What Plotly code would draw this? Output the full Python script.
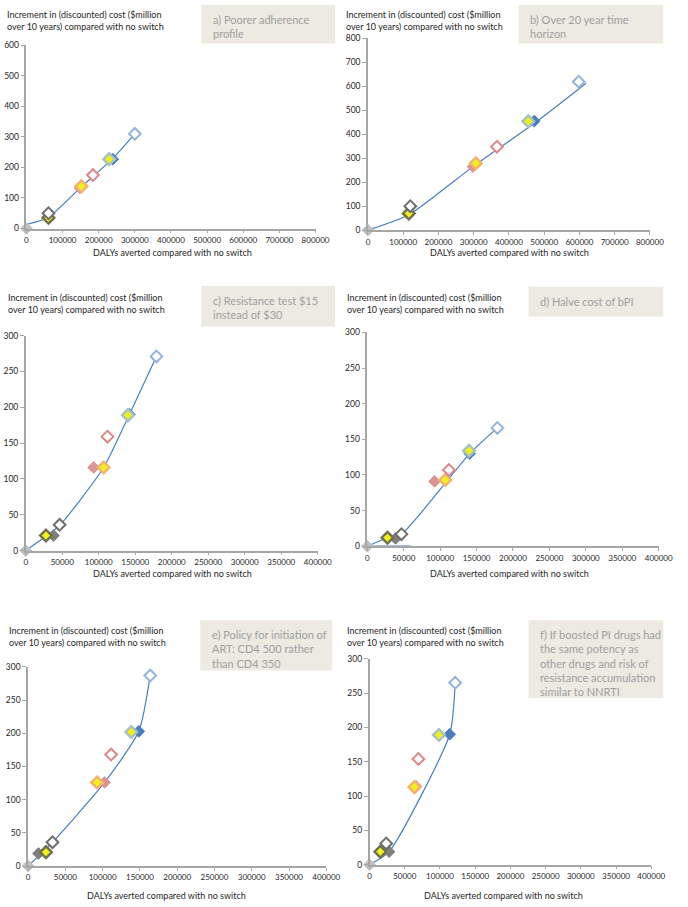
import plotly.graph_objects as go

# Marker categories (same order for every panel)
MARKER_KEYS = ["origin", "gray_filled", "gray_open", "olive_yellow", "pink_filled",
               "pink_open", "orange_yellow", "green_yellow", "blue_filled", "lightblue_open"]

# ---- data (DALYs averted, $ million) ----
a_x = [0, 60000, 61000, 61000, 148000, 184000, 152000, 229000, 239000, 300000]
a_y = [0, 37, 50, 35, 133, 175, 138, 227, 227, 310]
a_line_x = [0, 61000, 150000, 237000, 300000]
a_line_y = [13, 37, 134, 227, 310]

b_x = [0, 116000, 120000, 116000, 298000, 366000, 306000, 455000, 472000, 598000]
b_y = [0, 66, 100, 70, 265, 348, 279, 454, 455, 619]
b_line_x = [0, 116000, 297000, 474000, 619000]
b_line_y = [0, 64, 264, 448, 613]

c_x = [0, 38000, 46400, 27700, 92900, 112000, 106700, 140000, 142000, 179000]
c_y = [0, 21, 36, 21, 116, 159, 116, 189, 190, 271]
c_line_x = [0, 27700, 46400, 106700, 142000, 179000]
c_line_y = [0, 20, 35, 116, 190, 271]

d_x = [0, 38800, 46900, 27700, 92400, 112000, 107000, 139700, 140600, 178600]
d_y = [0, 11, 17, 12, 91, 107, 93, 134, 130, 166]
d_line_x = [0, 27700, 46900, 140600, 178600]
d_line_y = [0, 12, 17, 130, 166]
d_base_x = [0, 60000]
d_base_y = [0, 0]

e_x = [0, 14000, 32750, 24000, 102600, 111400, 92600, 138400, 148500, 163800]
e_y = [0, 19, 36, 21, 126, 168, 126, 202, 203, 287]
e_line_x = [0, 32750, 102600, 148500, 163800]
e_line_y = [0, 36, 126, 203, 287]

f_x = [0, 27750, 23600, 15300, 66000, 69400, 63800, 98500, 113800, 121600]
f_y = [0, 19, 31, 19, 114, 154, 113, 189, 190, 265]
f_line_x = [0, 27750, 113800, 121600]
f_line_y = [0, 19, 190, 265]

y_title = "Increment in (discounted) cost ($million<br>over 10 years) compared with no switch"
x_title = "DALYs averted compared with no switch"
panel_labels = [
    "a) Poorer adherence<br>profile",
    "b) Over 20 year time<br>horizon",
    "c) Resistance test $15<br>instead of $30",
    "d) Halve cost of bPI",
    "e) Policy for initiation of<br>ART: CD4 500 rather<br>than CD4 350",
    "f) If boosted PI drugs had<br>the same potency as<br>other drugs and risk of<br>resistance accumulation<br>similar to NNRTI",
]
x_max = [800000, 800000, 400000, 400000, 400000, 400000]
x_step = [100000, 100000, 50000, 50000, 50000, 50000]
y_max = [600, 800, 300, 300, 300, 300]
y_step = [100, 100, 50, 50, 50, 50]

# ---- styling ----
STYLE = {
    "origin":        ("#c0c0c0", "#c0c0c0", 1),
    "gray_filled":   ("#7f7f7f", "#7f7f7f", 1),
    "gray_open":     ("#ffffff", "#6e6e6e", 2.0),
    "olive_yellow":  ("#f0f020", "#6f7050", 2.4),
    "pink_filled":   ("#d99694", "#d99694", 1),
    "pink_open":     ("#ffffff", "#d98a88", 2.0),
    "orange_yellow": ("#f0f020", "#f5b26e", 2.4),
    "green_yellow":  ("#f0f020", "#a6c2c4", 2.4),
    "blue_filled":   ("#4a7ebb", "#4a7ebb", 1),
    "lightblue_open": ("#ffffff", "#95b3d7", 2.0),
}
DRAW_ORDER = ["origin", "gray_filled", "pink_filled", "blue_filled", "olive_yellow",
              "orange_yellow", "green_yellow", "gray_open", "pink_open", "lightblue_open"]
LINE_COLOR = "#4a7ebb"
AXIS_COLOR = "#a6a6a6"
FONT = "Lato, 'Open Sans', sans-serif"
W, H = 688, 907

# panel geometry in pixels: (x0, x1, ytop, ybottom)
plot_px = [(25, 321, 40.7, 226), (374.7, 663.3, 33.7, 227.7),
           (24.3, 323.3, 334.3, 551.7), (374, 672.3, 331, 547.3),
           (26.7, 332, 669.3, 870.7), (376.3, 664.7, 661, 869.3)]
ytitle_px = [(3, 2), (350.5, 2), (4, 288), (351, 288), (5.5, 625), (351, 625)]
xtitle_px = [(175, 250), (520, 250), (175, 575), (520, 575), (168, 900), (513, 900)]
box_px = [(204, 341, 0, 39), (529, 677, 0, 39), (204, 341, 284, 325),
          (539, 677, 285, 315), (203, 338, 622, 673), (539, 677, 622, 701)]

data = [(a_x, a_y, a_line_x, a_line_y), (b_x, b_y, b_line_x, b_line_y),
        (c_x, c_y, c_line_x, c_line_y), (d_x, d_y, d_line_x, d_line_y),
        (e_x, e_y, e_line_x, e_line_y), (f_x, f_y, f_line_x, f_line_y)]

fig = go.Figure()
layout = dict(width=W, height=H, margin=dict(l=0, r=0, t=0, b=0), showlegend=False,
              plot_bgcolor="white", paper_bgcolor="white",
              font=dict(family=FONT, size=9, color="#262626"))
annotations, shapes = [], []

for i, (px_, py_, lx, ly) in enumerate(data):
    n = "" if i == 0 else str(i + 1)
    xa, ya = "x" + n, "y" + n
    x0, x1, yt, yb = plot_px[i]
    layout["xaxis" + n] = dict(domain=[x0 / W, x1 / W], range=[0, x_max[i]], anchor=ya,
                               dtick=x_step[i], tick0=0, tickformat="d",
                               showline=True, linecolor=AXIS_COLOR, linewidth=1.5,
                               ticks="outside", ticklen=3, tickcolor=AXIS_COLOR,
                               showgrid=False, zeroline=False,
                               tickfont=dict(size=8, family=FONT, color="#262626"))
    layout["yaxis" + n] = dict(domain=[1 - yb / H, 1 - yt / H], range=[0, y_max[i]], anchor=xa,
                               dtick=y_step[i], tick0=0, tickformat="d",
                               showline=True, linecolor=AXIS_COLOR, linewidth=1.5,
                               ticks="outside", ticklen=4, tickcolor=AXIS_COLOR,
                               showgrid=False, zeroline=False,
                               tickfont=dict(size=8.5, family=FONT, color="#262626"))
    # frontier line
    fig.add_trace(go.Scatter(x=lx, y=ly, xaxis=xa, yaxis=ya, mode="lines",
                             line=dict(color=LINE_COLOR, width=1.2, shape="spline", smoothing=0.6),
                             hoverinfo="skip", cliponaxis=False))
    if i == 3:
        fig.add_trace(go.Scatter(x=d_base_x, y=d_base_y, xaxis=xa, yaxis=ya, mode="lines",
                                 line=dict(color=LINE_COLOR, width=1.5),
                                 hoverinfo="skip", cliponaxis=False))
    # markers
    xs, ys, fills, lines, widths = [], [], [], [], []
    for k in DRAW_ORDER:
        j = MARKER_KEYS.index(k)
        xs.append(px_[j]); ys.append(py_[j])
        fc, lc, lw = STYLE[k]
        fills.append(fc); lines.append(lc); widths.append(lw)
    fig.add_trace(go.Scatter(x=xs, y=ys, xaxis=xa, yaxis=ya, mode="markers", cliponaxis=False,
                             marker=dict(symbol="diamond", size=9, color=fills,
                                         line=dict(color=lines, width=widths))))
    # axis titles
    tx, ty = ytitle_px[i]
    annotations.append(dict(text=y_title, x=tx / W, y=1 - ty / H, xref="paper", yref="paper",
                            xanchor="left", yanchor="top", align="left", showarrow=False,
                            font=dict(size=9, family=FONT, color="#262626")))
    tx, ty = xtitle_px[i]
    annotations.append(dict(text=x_title, x=tx / W, y=1 - ty / H, xref="paper", yref="paper",
                            xanchor="center", yanchor="middle", showarrow=False,
                            font=dict(size=9, family=FONT, color="#262626")))
    # label box
    bx0, bx1, by0, by1 = box_px[i]
    shapes.append(dict(type="rect", xref="paper", yref="paper", x0=bx0 / W, x1=bx1 / W,
                       y0=1 - by1 / H, y1=1 - by0 / H, fillcolor="#eceae1",
                       line=dict(width=0), layer="below"))
    annotations.append(dict(text=panel_labels[i], x=(bx0 + 10) / W, y=1 - (by0 + 6) / H,
                            xref="paper", yref="paper", xanchor="left", yanchor="top",
                            align="left", showarrow=False,
                            font=dict(size=11, family=FONT, color="#a0a0a0")))

layout["annotations"] = annotations
layout["shapes"] = shapes
fig.update_layout(**layout)
fig.write_html("out.html", config={"displayModeBar": False},
               post_script="document.body.style.margin='0';")
